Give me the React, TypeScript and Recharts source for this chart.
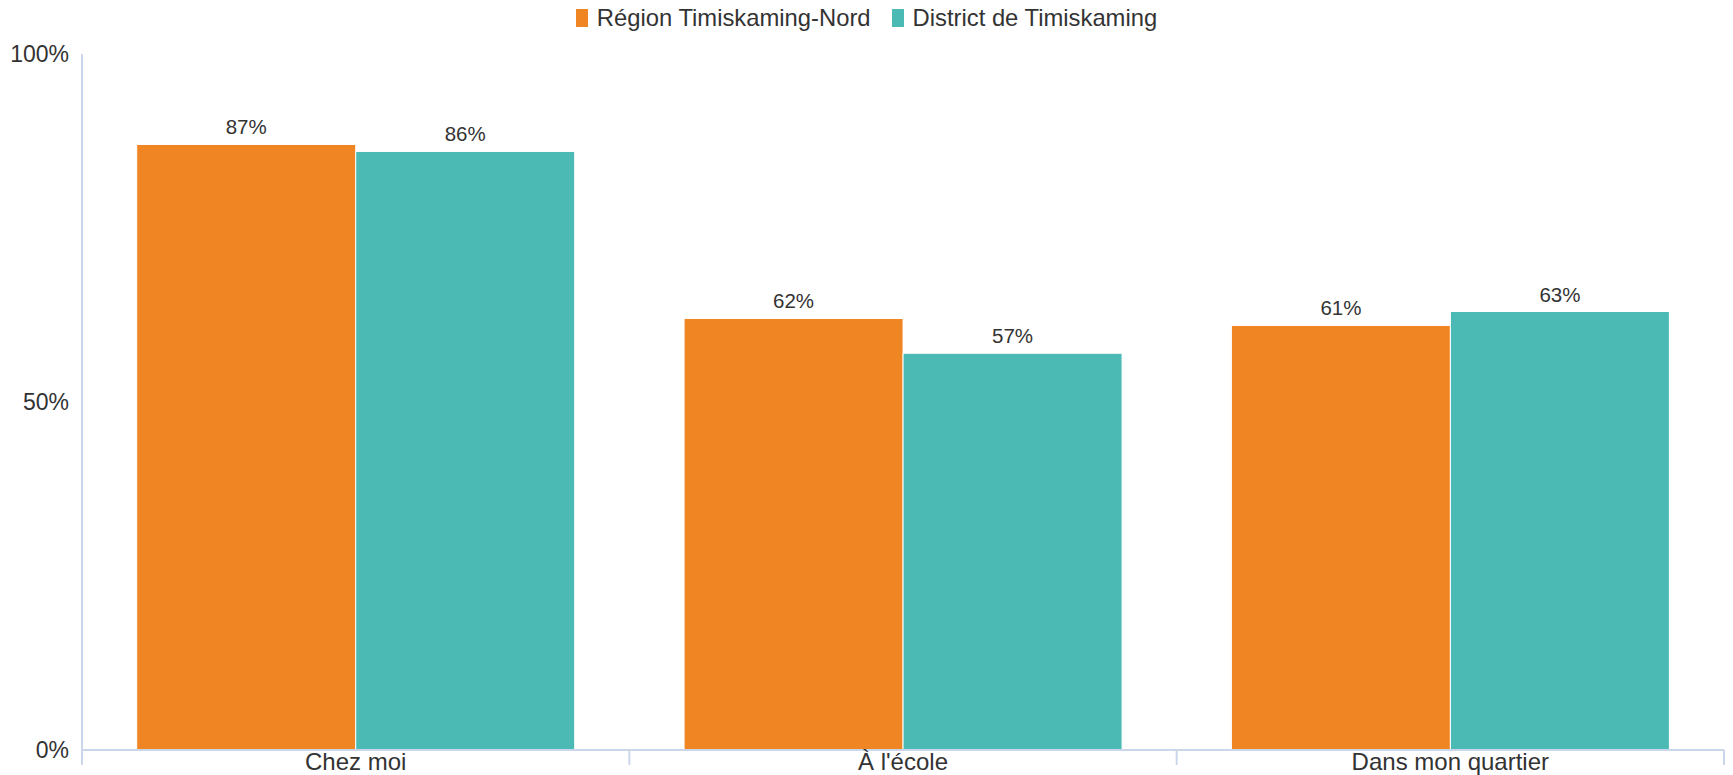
import { Bar, BarChart, LabelList, Legend, XAxis, YAxis } from "recharts";

const CATEGORIES = ["Chez moi", "À l'école", "Dans mon quartier"];
const REGION_NORD = [87, 62, 61];
const DISTRICT = [86, 57, 63];
const Y_TICKS = [0, 50, 100];
const BOUNDARY_TICKS = [0, 0.5, 1, 1.5, 2, 2.5, 3];

const SERIES = [
  { key: "nord", name: "Région Timiskaming-Nord", color: "#EF8523" },
  { key: "district", name: "District de Timiskaming", color: "#4BBAB5" },
];

const AXIS_COLOR = "#ccd6eb";
const TEXT_COLOR = "#333333";
const FONT = '"Liberation Sans", Arial, Helvetica, sans-serif';

const data = CATEGORIES.map((name, i) => ({
  name,
  slot: i + 0.5,
  nord: REGION_NORD[i],
  district: DISTRICT[i],
}));

function LegendContent() {
  return (
    <div
      style={{
        height: 52,
        display: "flex",
        justifyContent: "center",
        alignItems: "flex-start",
        fontFamily: FONT,
        fontSize: 23.8,
        color: TEXT_COLOR,
      }}
    >
      {SERIES.map((s, i) => (
        <div
          key={s.key}
          style={{
            display: "flex",
            alignItems: "center",
            height: 32,
            marginLeft: i === 0 ? 0 : 21,
          }}
        >
          <span
            style={{
              display: "inline-block",
              width: 12,
              height: 18,
              background: s.color,
              marginRight: 9,
            }}
          />
          <span>{s.name}</span>
        </div>
      ))}
    </div>
  );
}

// boundary tick marks on whole numbers, category labels on the halves
function BottomTick(props: any) {
  const { x, y, payload } = props;
  const v = payload.value as number;
  if (Number.isInteger(v)) {
    return <line x1={x} x2={x} y1={y} y2={y + 15} stroke={AXIS_COLOR} strokeWidth={2} />;
  }
  return (
    <text
      x={x}
      y={y + 11}
      textAnchor="middle"
      dominantBaseline="central"
      fontSize={24}
      fontFamily={FONT}
      fill={TEXT_COLOR}
    >
      {CATEGORIES[Math.floor(v)]}
    </text>
  );
}

export default function App() {
  return (
    <div style={{ position: "absolute", left: 0, top: 0, width: 1733, height: 775, background: "#fff" }}>
      <BarChart
        width={1733}
        height={775}
        data={data}
        margin={{ top: 2, right: 9, bottom: 0, left: 0 }}
        barCategoryGap="10%"
        barGap={0}
      >
        <Legend
          verticalAlign="top"
          align="center"
          content={<LegendContent />}
          wrapperStyle={{ left: 0, width: 1733 }}
        />
        <XAxis xAxisId="cat" dataKey="name" type="category" hide height={0} />
        <XAxis
          xAxisId="num"
          dataKey="slot"
          type="number"
          domain={[0, CATEGORIES.length]}
          allowDataOverflow
          ticks={BOUNDARY_TICKS}
          interval={0}
          height={25}
          tickSize={0}
          tickMargin={0}
          tickLine={false}
          axisLine={{ stroke: AXIS_COLOR, strokeWidth: 2 }}
          tick={<BottomTick />}
        />
        <YAxis
          width={82}
          domain={[0, 100]}
          ticks={Y_TICKS}
          interval={0}
          tickFormatter={(v) => `${v}%`}
          tickSize={0}
          tickMargin={13}
          tickLine={false}
          axisLine={{ stroke: AXIS_COLOR, strokeWidth: 2 }}
          tick={{ fill: TEXT_COLOR, fontSize: 23, fontFamily: FONT }}
        />
        {SERIES.map((s) => (
          <Bar
            key={s.key}
            xAxisId="cat"
            dataKey={s.key}
            name={s.name}
            fill={s.color}
            stroke="#ffffff"
            strokeWidth={1}
            isAnimationActive={false}
          >
            <LabelList
              dataKey={s.key}
              position="top"
              offset={10}
              formatter={(v: any) => `${v}%`}
              fill={TEXT_COLOR}
              fontSize={20.5}
              fontFamily={FONT}
            />
          </Bar>
        ))}
      </BarChart>
    </div>
  );
}
